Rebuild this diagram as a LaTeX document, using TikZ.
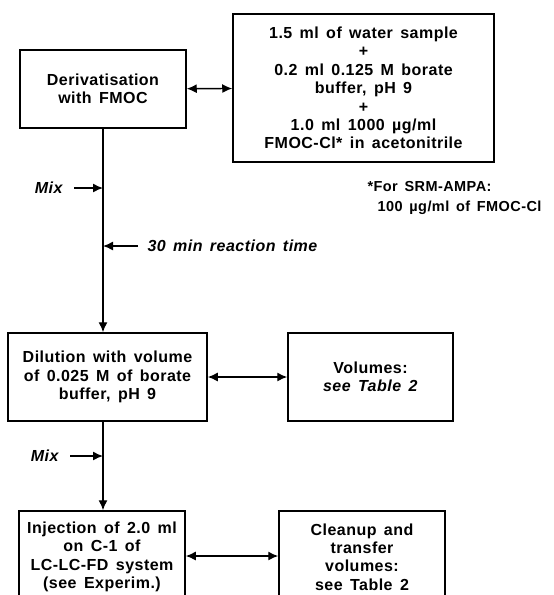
\documentclass[tikz,border=0pt]{standalone}
\usepackage{fontspec}
\setmainfont{Liberation Sans}[LetterSpace=3, WordSpace=1.5]
\usepackage{tikz}
\usetikzlibrary{arrows.meta,positioning}

\begin{document}
\begin{tikzpicture}[x=1pt, y=-1pt,
  box/.style={rectangle, draw=black, line width=1.5pt, inner sep=2pt,
              align=center, font=\fontsize{16}{18.4}\selectfont\bfseries},
  note/.style={font=\fontsize{16}{18.4}\selectfont\bfseries\itshape},
  link/.style={line width=1.4pt, {Latex[length=10pt,width=9pt]}-{Latex[length=10pt,width=9pt]}},
  flow/.style={line width=1.4pt, -{Latex[length=10pt,width=9pt]}},
]
  \useasboundingbox (0,0) rectangle (554,595);

  % first step and its reagents
  \node[box, minimum width=166pt, minimum height=78pt] (deriv) at (103,89)
    {Derivatisation\\with FMOC};
  \node[box, minimum width=261pt, minimum height=148pt] (reagents) at (363.5,88)
    {1.5 ml of water sample\\+\\0.2 ml 0.125 M borate\\buffer, pH 9\\+\\1.0 ml 1000 µg/ml\\FMOC-Cl* in acetonitrile};
  \draw[link] (deriv) -- (reagents);

  \node[font=\fontsize{14.5}{20}\selectfont\bfseries, align=left, anchor=north west] (footnote) at (364,178)
    {*For SRM-AMPA:\\\hspace*{0.7em}100 µg/ml of FMOC-Cl};

  % dilution step
  \node[box, minimum width=199pt, minimum height=88pt] (dilution) at (107.5,377)
    {Dilution with volume\\of 0.025 M of borate\\buffer, pH 9};
  \node[box, minimum width=165pt, minimum height=88pt] (volumes) at (370.5,377)
    {Volumes:\\\textit{see Table 2}};
  \draw[link] (dilution) -- (volumes);

  \draw[flow] (deriv.south) -- (deriv.south |- dilution.north);

  \coordinate (mixA) at (deriv.south |- 0,188);
  \node[note, anchor=east] (mixlblA) at (66,188) {Mix};
  \draw[flow, shorten <=8pt] (mixlblA.east) -- (mixA);

  \coordinate (react) at (deriv.south |- 0,246);
  \node[note, anchor=west] (reactlbl) at (144,246) {30 min reaction time};
  \draw[flow, shorten <=6pt] (reactlbl.west) -- (react);

  % injection step
  \node[box, minimum width=166pt, minimum height=92pt] (inject) at (102,557)
    {Injection of 2.0 ml\\on C-1 of\\LC-LC-FD system\\(see Experim.)};
  \node[box, minimum width=166pt, minimum height=92pt] (cleanup) at (362,557)
    {Cleanup and\\transfer\\volumes:\\see Table 2};
  \draw[link] (inject.east |- 0,556) -- (cleanup.west |- 0,556);

  \draw[flow] (deriv.south |- dilution.south) -- (deriv.south |- inject.north);

  \coordinate (mixB) at (deriv.south |- 0,456);
  \node[note, anchor=east] (mixlblB) at (62,456) {Mix};
  \draw[flow, shorten <=8pt] (mixlblB.east) -- (mixB);
\end{tikzpicture}
\end{document}
